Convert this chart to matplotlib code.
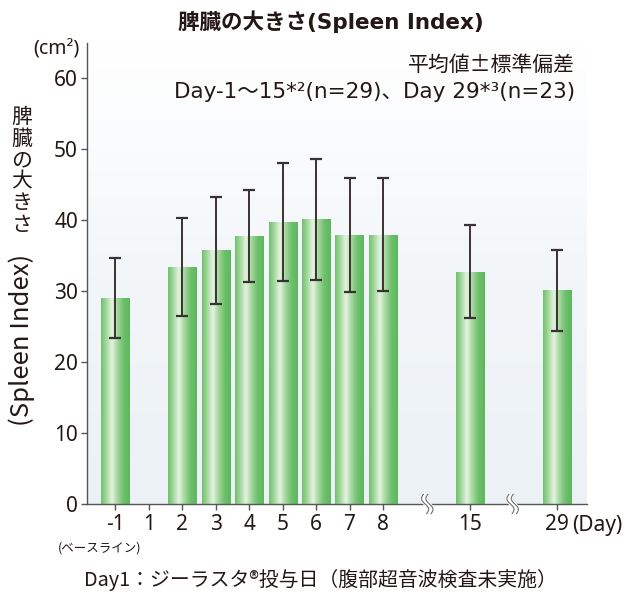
import numpy as np
import matplotlib
matplotlib.use("Agg")
import matplotlib.pyplot as plt
from matplotlib.colors import LinearSegmentedColormap

plt.rcParams['font.family'] = ['Noto Sans', 'Noto Sans CJK JP', 'DejaVu Sans']
WIDE = ['DejaVu Sans', 'Noto Sans CJK JP']
CJK = ['Noto Sans CJK JP', 'DejaVu Sans']

# ---- data ----
day_labels = ["-1", "1", "2", "3", "4", "5", "6", "7", "8", "15", "29"]
day_pos = [0, 1, 2, 3, 4, 5, 6, 7, 8, 10.6, 13.2]
bar_days = ["-1", "2", "3", "4", "5", "6", "7", "8", "15", "29"]
means = [29.0, 33.4, 35.7, 37.7, 39.7, 40.1, 37.9, 37.9, 32.7, 30.1]
sds = [5.7, 6.9, 7.5, 6.5, 8.3, 8.5, 8.0, 7.95, 6.55, 5.7]
break_pos = [9.32, 11.87]
yticks = [0, 10, 20, 30, 40, 50, 60]

W, H = 631, 596
fig = plt.figure(figsize=(W / 100, H / 100), dpi=100)
ax = fig.add_axes([87 / W, 1 - 504 / H, 500 / W, 461 / H])

def px(x, y):
    return x / W, 1 - y / H

xlim = (-0.84, 14.09)
ylim = (0, 64.9)

# background gradient
bg = np.linspace(0, 1, 256).reshape(-1, 1)
bg_cmap = LinearSegmentedColormap.from_list("bg", ["#ebf1f5", "#f3f6f9", "#ffffff"])
ax.imshow(bg, extent=[xlim[0], xlim[1], ylim[0], ylim[1]], origin="lower",
          aspect="auto", cmap=bg_cmap, zorder=0)

pos_map = dict(zip(day_labels, day_pos))
bx = [pos_map[d] for d in bar_days]
bars = ax.bar(bx, means, width=0.84, color="#6cbf6a", zorder=2)

grad_cmap = LinearSegmentedColormap.from_list(
    "bar", [(0.0, "#70c06d"), (0.18, "#a3d89d"), (0.38, "#e5f3e0"),
            (0.56, "#a6d8a0"), (0.78, "#6ec06c"), (1.0, "#5db75d")])
grad = np.linspace(0, 1, 256).reshape(1, -1)
for b in bars:
    x0, y0 = b.get_x(), b.get_y()
    im = ax.imshow(grad, extent=[x0, x0 + b.get_width(), y0, y0 + b.get_height()],
                   aspect="auto", cmap=grad_cmap, zorder=3)
    im.set_clip_path(b)

ax.errorbar(bx, means, yerr=sds, fmt="none", ecolor="#3a3232", elinewidth=1.4,
            capsize=4.3, capthick=1.6, zorder=4)

ax.set_xlim(*xlim)
ax.set_ylim(*ylim)

for s in ["top", "right"]:
    ax.spines[s].set_visible(False)
for s in ["left", "bottom"]:
    ax.spines[s].set_color("#555555")
    ax.spines[s].set_linewidth(1.0)
    ax.spines[s].set_zorder(5)

ax.set_yticks(yticks)
ax.set_yticklabels([str(v) for v in yticks], fontsize=15, color="#231815")
ax.set_xticks(day_pos)
ax.set_xticklabels(day_labels, fontsize=15, color="#231815")
ax.tick_params(axis="both", direction="out", length=4.5, width=1.0, color="#555555")
ax.tick_params(axis="y", pad=2)
ax.tick_params(axis="x", pad=3)

# break marks on x axis
t = np.linspace(-1, 1, 60)
for xb in break_pos:
    xs = xb + 0.08 * np.sin(np.pi * t) + 0.05 * t
    ys = -1.35 * t
    ax.plot(xs, ys, color="white", lw=4.5, clip_on=False, zorder=6, solid_capstyle="butt")
    ax.plot(xs - 0.065, ys, color="#6e6e6e", lw=0.8, clip_on=False, zorder=7)
    ax.plot(xs + 0.065, ys, color="#6e6e6e", lw=0.8, clip_on=False, zorder=7)

# texts
ax.annotate("(Day)", xy=(pos_map["29"], 0), xycoords="data", xytext=(11, -15.5),
            textcoords="offset points", ha="left", va="center", fontsize=15, color="#231815")
fig.text(*px(100, 548), "(ベースライン)", ha="center", va="center", fontsize=9,
         color="#231815", family=CJK)

fig.text(*px(331, 22), "脾臓の大きさ(Spleen Index)", ha="center", va="center",
         fontsize=15.5, fontweight="bold", color="#231815", family=WIDE)
fig.text(*px(80, 50), "(cm²)", ha="right", va="center", fontsize=14, color="#231815")
fig.text(*px(575, 65), "平均値±標準偏差", ha="right", va="center", fontsize=15,
         color="#231815", family=CJK)
fig.text(*px(575, 92), "Day-1～15*²(n=29)、Day 29*³(n=23)", ha="right", va="center",
         fontsize=15.5, color="#231815", family=WIDE)
fig.text(*px(320, 580), "Day1：ジーラスタ®投与日（腹部超音波検査未実施）", ha="center",
         va="center", fontsize=14.3, color="#231815", family=CJK)

# vertical y label
for i, ch in enumerate("脾臓の大きさ"):
    fig.text(*px(22, 117 + i * 21.5), ch, ha="center", va="center", fontsize=15,
             color="#231815", family=CJK)
fig.text(*px(22, 340), "(Spleen Index)", ha="center", va="center", rotation=90,
         fontsize=18.5, color="#231815", family=CJK)

fig.savefig("out.png", dpi=100)
